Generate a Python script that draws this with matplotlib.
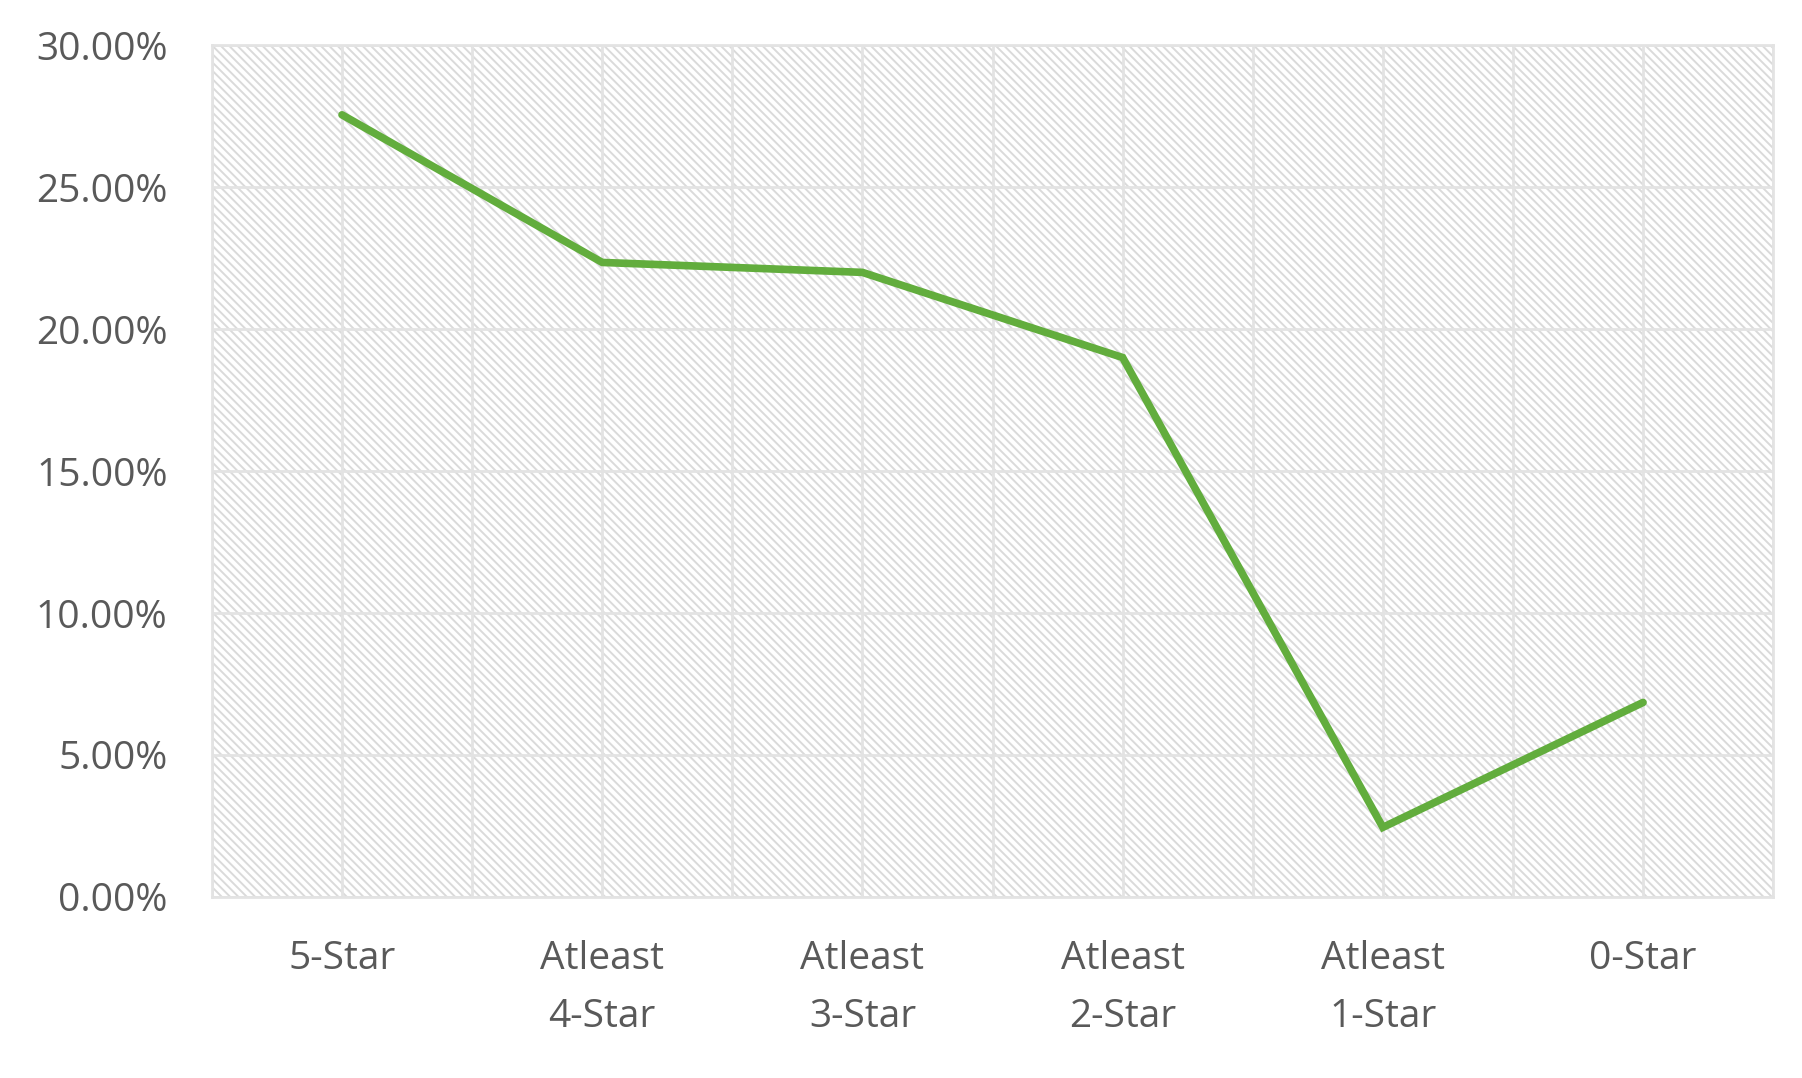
import matplotlib.pyplot as plt
from matplotlib.patches import Rectangle
from matplotlib.ticker import FuncFormatter, MultipleLocator

# data
categories = ["5-Star", "Atleast\n4-Star", "Atleast\n3-Star", "Atleast\n2-Star",
              "Atleast\n1-Star", "0-Star"]
share_pct = [27.55, 22.35, 22.0, 19.0, 2.45, 6.85]

line_color = "#62ad3d"
grid_color = "#e3e3e3"
text_color = "#595959"

plt.rcParams["font.family"] = ["Open Sans", "DejaVu Sans"]
plt.rcParams["hatch.linewidth"] = 1.4
plt.rcParams["hatch.color"] = "#dadada"

fig = plt.figure(figsize=(18.02, 10.78), dpi=100)
ax = fig.add_axes([0.1176, 0.168, 0.8664, 0.790])

# hatched plot area background
ax.add_patch(Rectangle((0, 0), 1, 1, transform=ax.transAxes, facecolor="white",
                       edgecolor="#dadada", hatch="\\\\\\\\", linewidth=0, zorder=0))

x = list(range(len(categories)))
ax.plot(x, share_pct, color=line_color, linewidth=5.5, solid_capstyle="round",
        solid_joinstyle="miter", zorder=3)

ax.set_xlim(-0.5, len(categories) - 0.5)
ax.set_ylim(0, 30)
ax.set_xticks(x)
ax.set_xticklabels(categories, linespacing=1.7)
ax.yaxis.set_major_locator(MultipleLocator(5))
ax.yaxis.set_major_formatter(FuncFormatter(lambda v, _: f"{v:.2f}%"))

# gridlines: every 5% horizontally, every half category vertically
for v in range(0, 31, 5):
    ax.axhline(v, color=grid_color, linewidth=2, zorder=1)
for k in range(len(categories) * 2 + 1):
    ax.axvline(-0.5 + 0.5 * k, color=grid_color, linewidth=2, zorder=1)

ax.tick_params(axis="both", length=0, labelsize=28, labelcolor=text_color)
ax.tick_params(axis="y", pad=32)
ax.tick_params(axis="x", pad=31)
for s in ax.spines.values():
    s.set_color(grid_color)
    s.set_linewidth(2)

fig.savefig("out.png", dpi=100)
